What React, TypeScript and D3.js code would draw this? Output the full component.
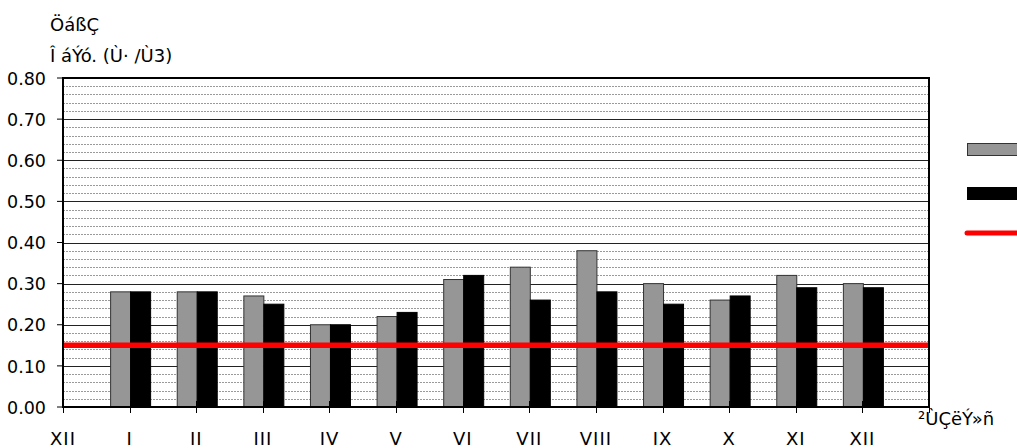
import React from "react";
import * as d3 from "d3";

const categories = ["XII", "I", "II", "III", "IV", "V", "VI", "VII", "VIII", "IX", "X", "XI", "XII", "²ÙÇëÝ»ñ"];
const barCategories = ["I", "II", "III", "IV", "V", "VI", "VII", "VIII", "IX", "X", "XI", "XII"];
const seriesGray = [0.28, 0.28, 0.27, 0.2, 0.22, 0.31, 0.34, 0.38, 0.3, 0.26, 0.32, 0.3];
const seriesBlack = [0.28, 0.28, 0.25, 0.2, 0.23, 0.32, 0.26, 0.28, 0.25, 0.27, 0.29, 0.29];
const limitValue = 0.15;
const yTicks = [0, 0.1, 0.2, 0.3, 0.4, 0.5, 0.6, 0.7, 0.8];
const titleLines = ["ÖáßÇ", "Î áÝó. (Ù· /Ù3)"];

const W = 1017;
const H = 448;
const L = 63, R = 929, T = 78, B = 407;
const FONT = "DejaVu Sans, Verdana, sans-serif";

export default function App() {
  const x = d3.scalePoint<number>().domain(d3.range(categories.length)).range([L, R]);
  const y = d3.scaleLinear().domain([0, 0.8]).range([B, T]);
  const inner = d3.scaleBand<string>().domain(["g", "b"]).range([-19, 21]).padding(0);
  const minor = d3.range(1, 40).map((i) => i * 0.02).filter((v) => Math.round(v * 100) % 10 !== 0);
  const major = yTicks.filter((v) => v > 0 && v < 0.8);

  return (
    <svg width={W} height={H} style={{ position: "absolute", left: 0, top: 0, background: "#fff" }} fontFamily={FONT}>
      {minor.map((v, i) => (
        <line key={"mi" + i} x1={L} x2={R} y1={Math.round(y(v)) + 0.5} y2={Math.round(y(v)) + 0.5} stroke="#9a9a9a" strokeWidth={1} strokeDasharray="2 1" />
      ))}
      {major.map((v, i) => (
        <line key={"ma" + i} x1={L} x2={R} y1={Math.round(y(v)) + 0.5} y2={Math.round(y(v)) + 0.5} stroke="#222" strokeWidth={1} />
      ))}
      {barCategories.map((c, i) => {
        const cx = x(i + 1) as number;
        return (
          <g key={"bar" + i}>
            <rect x={cx + (inner("g") as number)} y={y(seriesGray[i])} width={inner.bandwidth()} height={y(0) - y(seriesGray[i])} fill="#969696" stroke="#333" strokeWidth={1} />
            <rect x={cx + (inner("b") as number)} y={y(seriesBlack[i])} width={inner.bandwidth()} height={y(0) - y(seriesBlack[i])} fill="#000" stroke="#000" strokeWidth={1} />
          </g>
        );
      })}
      <line x1={L} x2={R} y1={y(limitValue)} y2={y(limitValue)} stroke="#ff0000" strokeWidth={5.5} />
      {/* frame */}
      <line x1={L} x2={R} y1={T} y2={T} stroke="#000" strokeWidth={2} />
      <line x1={R} x2={R} y1={T - 1} y2={B + 1} stroke="#000" strokeWidth={2} />
      <line x1={L} x2={L} y1={T - 1} y2={B + 1} stroke="#000" strokeWidth={2} />
      <line x1={L} x2={R} y1={B} y2={B} stroke="#000" strokeWidth={2} />
      {/* y ticks */}
      {yTicks.map((v, i) => (
        <g key={"yt" + i}>
          <line x1={L - 6} x2={L} y1={y(v)} y2={y(v)} stroke="#000" strokeWidth={1} />
          <text x={46} y={y(v)} dy="0.38em" textAnchor="end" fontSize={17.5} fill="#000">
            {d3.format(".2f")(v)}
          </text>
        </g>
      ))}
      {/* x ticks */}
      {categories.map((c, i) => {
        const px = x(i) as number;
        const last = i === categories.length - 1;
        return (
          <g key={"xt" + i}>
            <line x1={Math.round(px) + 0.5} x2={Math.round(px) + 0.5} y1={B - 6} y2={B + 6} stroke="#000" strokeWidth={1} />
            <text x={last ? px - 11 : px} y={last ? 425 : 445} textAnchor={last ? "start" : "middle"} fontSize={18} letterSpacing={last ? 0 : 1} fill="#000">
              {c}
            </text>
          </g>
        );
      })}
      {/* title */}
      {titleLines.map((t, i) => (
        <text key={"tt" + i} x={50} y={31 + i * 31} fontSize={18} fill="#000">
          {t}
        </text>
      ))}
      {/* legend */}
      <rect x={967.5} y={143.5} width={60} height={12} fill="#969696" stroke="#333" strokeWidth={1} />
      <rect x={967} y={187} width={60} height={13} fill="#000" />
      <line x1={967} x2={1030} y1={233} y2={233} stroke="#ff0000" strokeWidth={5} strokeLinecap="round" />
    </svg>
  );
}
